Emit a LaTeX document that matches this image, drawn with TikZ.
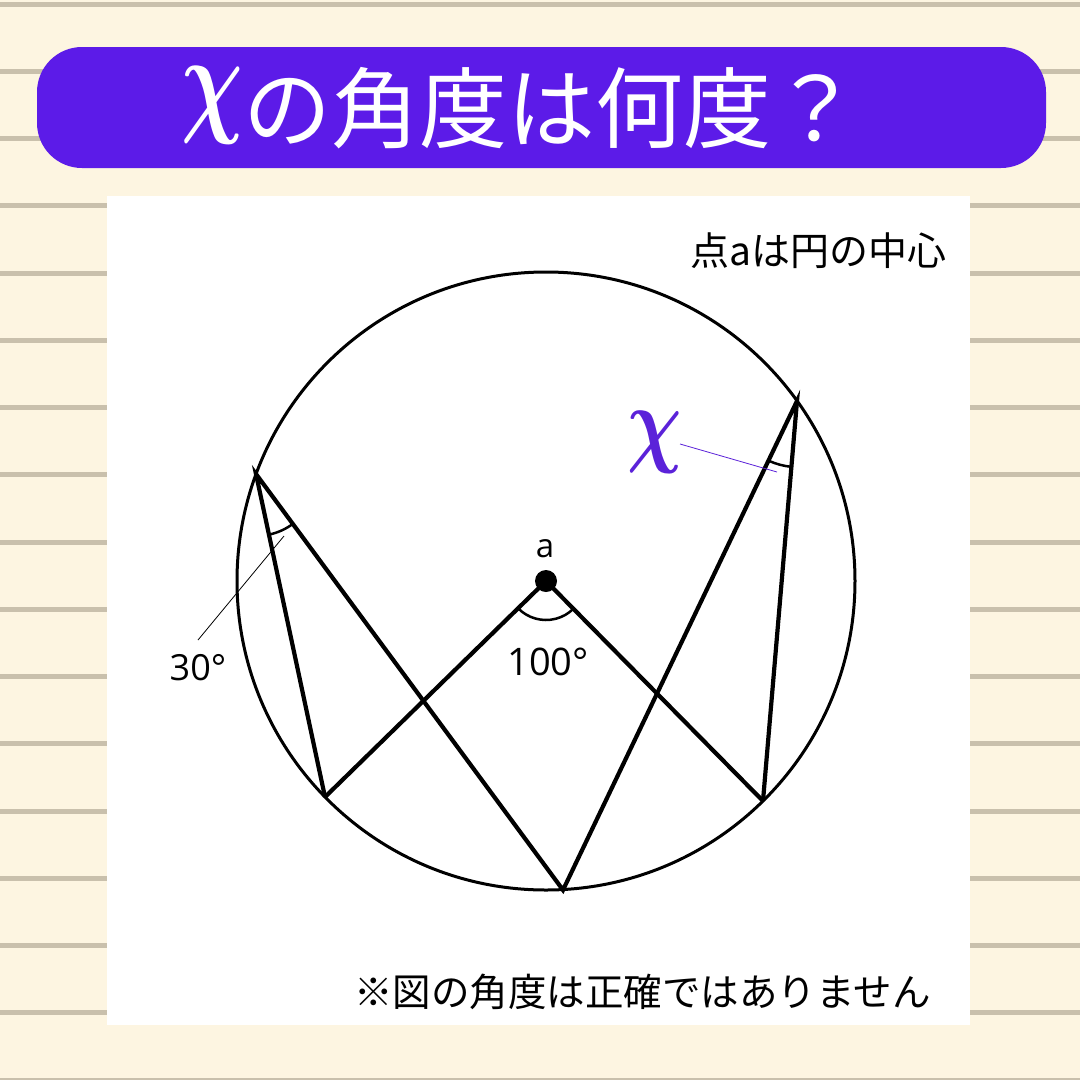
\documentclass[tikz,border=0pt]{standalone}
\usepackage{amsmath}
\usepackage{fontspec}
\usepackage{graphicx}
\setmainfont{Open Sans}
\newfontfamily\jp{Noto Sans CJK JP}
\usetikzlibrary{angles}
\definecolor{bgc}{HTML}{FDF5E1}
\definecolor{rulec}{HTML}{C9C0AC}
\definecolor{banc}{HTML}{5C1BE8}
\definecolor{chic}{HTML}{5B22D9}
\begin{document}
\begin{tikzpicture}[x=1pt,y=-1pt,
  fig/.style={line width=4.2pt, line join=miter},
  rim/.style={line width=3pt},
  arcmark/.style={draw, line width=2.5pt},
  leader/.style={line width=0.8pt},
  jptxt/.style={inner sep=0pt, anchor=base west},
  numtxt/.style={inner sep=0pt, anchor=base}]
\useasboundingbox (0,0) rectangle (1080,1080);
\fill[bgc] (0,0) rectangle (1080,1080);
\foreach \k in {0,...,16} \fill[rulec] (0,{4+67.25*\k-2.5}) rectangle (1080,{4+67.25*\k+2.5});
\fill[banc, rounded corners=45pt] (37,47) rectangle (1046,168);
\fill[white] (107,196) rectangle (970,1025);
% title
\node[inner sep=0pt, text=white] (tchi) at (212,105) {\scalebox{8.6}[12.1]{$\boldsymbol{\chi}$}};
\node[jptxt, text=white, font=\jp\fontsize{88}{88}\selectfont] (title) at (243,141) {の角度は何度？};
% notes
\node[jptxt, font=\jp\fontsize{39}{39}\selectfont] (note1) at (690,265) {点aは円の中心};
\node[jptxt, font=\jp\fontsize{38.5}{38.5}\selectfont] (note2) at (354,1006) {※図の角度は正確ではありません};
% geometry
\coordinate (a) at (546,581);
\coordinate (A) at (256,474);
\coordinate (B) at (325,797);
\coordinate (C) at (563,890);
\coordinate (D) at (763,801);
\coordinate (E) at (797,401);
\draw[rim] (a) circle[radius=309pt];
\draw[fig] (B) -- (A) -- (C) -- (E) -- (D);
\draw[fig] (B) -- (a) -- (D);
\node[circle, fill=black, inner sep=0pt, minimum size=22pt] (dot) at (a) {};
\pic[arcmark, angle radius=39pt] {angle=B--a--D};
\pic[arcmark, angle radius=62pt] {angle=B--A--C};
\pic[arcmark, angle radius=66pt] {angle=C--E--D};
% labels
\node[numtxt, font=\fontsize{33}{33}\selectfont] (la) at (545,557) {a};
\node[numtxt, font=\fontsize{38}{38}\selectfont] (l100) at (548,675) {100°};
\node[numtxt, font=\fontsize{36}{36}\selectfont] (l30) at (198,680) {30°};
\coordinate (p30a) at (198,640);
\coordinate (p30b) at (284,536);
\draw[leader] (p30a) -- (p30b);
\node[inner sep=0pt, text=chic] (lchi) at (655,442) {\scalebox{7.6}[9.7]{$\boldsymbol{\chi}$}};
\coordinate (pxa) at (680,444);
\coordinate (pxb) at (777,472);
\draw[leader, draw=chic] (pxa) -- (pxb);
\end{tikzpicture}
\end{document}
